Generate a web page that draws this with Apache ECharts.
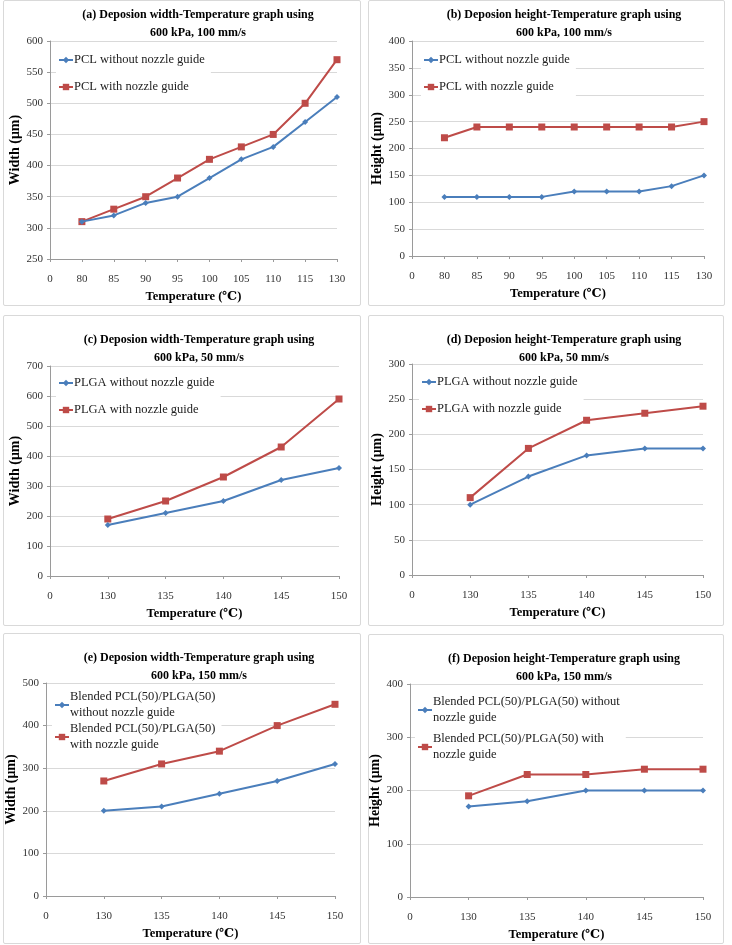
<!DOCTYPE html>
<html>
<head>
<meta charset="utf-8">
<script src="https://cdn.jsdelivr.net/npm/echarts@6/dist/echarts.min.js"></script>
<style>
  html, body { margin: 0; padding: 0; background: #fff; }
  .panel { position: absolute; border: 1px solid #d9d9d9; border-radius: 2px; background: #fff; box-sizing: border-box; }
</style>
</head>
<body>
<div id="pa" class="panel" style="left:3px;top:0px;width:358px;height:306px"></div>
<div id="pb" class="panel" style="left:368px;top:0px;width:357px;height:306px"></div>
<div id="pc" class="panel" style="left:3px;top:315px;width:358px;height:311px"></div>
<div id="pd" class="panel" style="left:368px;top:315px;width:356px;height:311px"></div>
<div id="pe" class="panel" style="left:3px;top:633px;width:358px;height:311px"></div>
<div id="pf" class="panel" style="left:368px;top:634px;width:356px;height:310px"></div>
<script>
// x categories (first "0" slot is empty, as in the original spreadsheet charts)
var tempsPCL = ['0', '80', '85', '90', '95', '100', '105', '110', '115', '130'];
var tempsPLGA = ['0', '130', '135', '140', '145', '150'];

// (a) width, PCL, 600 kPa 100 mm/s
var widthPclWithout = [null, 310, 320, 340, 350, 380, 410, 430, 470, 510];
var widthPclWith = [null, 310, 330, 350, 380, 410, 430, 450, 500, 570];
// (b) height, PCL
var heightPclWithout = [null, 110, 110, 110, 110, 120, 120, 120, 130, 150];
var heightPclWith = [null, 220, 240, 240, 240, 240, 240, 240, 240, 250];
// (c) width, PLGA, 50 mm/s
var widthPlgaWithout = [null, 170, 210, 250, 320, 360];
var widthPlgaWith = [null, 190, 250, 330, 430, 590];
// (d) height, PLGA
var heightPlgaWithout = [null, 100, 140, 170, 180, 180];
var heightPlgaWith = [null, 110, 180, 220, 230, 240];
// (e) width, blended, 150 mm/s
var widthBlendWithout = [null, 200, 210, 240, 270, 310];
var widthBlendWith = [null, 270, 310, 340, 400, 450];
// (f) height, blended
var heightBlendWithout = [null, 170, 180, 200, 200, 200];
var heightBlendWith = [null, 190, 230, 230, 240, 240];

var FONT = '"Liberation Serif", "DejaVu Serif", serif';
var BLUE = '#4A7EBB';
var RED = '#BE4B48';

function makeChart(id, cfg) {
  var chart = echarts.init(document.getElementById(id));
  var grid = Object.assign({ outerBoundsMode: 'none', containLabel: false }, cfg.grid);
  chart.setOption({
    animation: false,
    textStyle: { fontFamily: FONT },
    title: {
      text: cfg.title,
      left: cfg.titleLeft,
      top: cfg.titleTop,
      textAlign: 'center',
      textStyle: { fontFamily: FONT, fontSize: 12, fontWeight: 'bold', color: '#000', lineHeight: 18 }
    },
    legend: {
      left: cfg.legendLeft,
      top: cfg.legendTop,
      orient: 'vertical',
      backgroundColor: '#fff',
      z: 1,
      padding: [2, 6, 2, 2],
      itemGap: cfg.legendGap,
      itemWidth: 14,
      itemHeight: 8,
      textStyle: { fontFamily: FONT, fontSize: 12.5, color: '#222', padding: [0, 0, 0, -4], lineHeight: 16 },
      data: [cfg.names[0], cfg.names[1]]
    },
    grid: grid,
    xAxis: {
      type: 'category',
      data: cfg.cats,
      boundaryGap: false,
      name: 'Temperature (℃)',
      nameLocation: 'middle',
      nameGap: 31,
      nameMoveOverlap: false,
      nameTextStyle: { fontFamily: FONT, fontSize: 12.5, fontWeight: 'bold', color: '#000' },
      axisLine: { lineStyle: { color: '#9a9a9a' } },
      axisTick: { show: true, alignWithLabel: true, length: 3, lineStyle: { color: '#9a9a9a' } },
      axisLabel: { fontFamily: FONT, fontSize: 11, color: '#333', margin: 15 },
      splitLine: { show: false }
    },
    yAxis: {
      type: 'value',
      min: cfg.yMin,
      max: cfg.yMax,
      interval: cfg.yStep,
      name: cfg.yName,
      nameLocation: 'middle',
      nameGap: 28,
      nameMoveOverlap: false,
      nameTextStyle: { fontFamily: FONT, fontSize: 14, fontWeight: 'bold', color: '#000' },
      axisLine: { show: true, lineStyle: { color: '#9a9a9a' } },
      axisTick: { show: true, length: 3, lineStyle: { color: '#9a9a9a' } },
      axisLabel: { fontFamily: FONT, fontSize: 11, color: '#333', margin: 7 },
      splitLine: { show: true, lineStyle: { color: '#d9d9d9', width: 1 } }
    },
    series: [
      {
        name: cfg.names[0],
        type: 'line',
        data: cfg.values[0],
        symbol: 'diamond',
        symbolSize: 6,
        lineStyle: { color: BLUE, width: 2 },
        itemStyle: { color: BLUE },
        z: 3
      },
      {
        name: cfg.names[1],
        type: 'line',
        data: cfg.values[1],
        symbol: 'rect',
        symbolSize: 7,
        lineStyle: { color: RED, width: 2 },
        itemStyle: { color: RED },
        z: 2
      }
    ]
  });
}

makeChart('pa', {
  title: '(a) Deposion width-Temperature graph using\n600 kPa, 100 mm/s',
  titleLeft: 189, titleTop: 0,
  legendLeft: 52, legendTop: 49, legendGap: 11,
  grid: { left: 46, right: 23, top: 40, bottom: 46 },
  cats: tempsPCL, yMin: 250, yMax: 600, yStep: 50, yName: 'Width (μm)',
  names: ['PCL without nozzle guide', 'PCL with nozzle guide'],
  values: [widthPclWithout, widthPclWith]
});
makeChart('pb', {
  title: '(b) Deposion height-Temperature graph using\n600 kPa, 100 mm/s',
  titleLeft: 190, titleTop: 0,
  legendLeft: 52, legendTop: 49, legendGap: 11,
  grid: { left: 43, right: 20, top: 40, bottom: 49 },
  cats: tempsPCL, yMin: 0, yMax: 400, yStep: 50, yName: 'Height (μm)',
  names: ['PCL without nozzle guide', 'PCL with nozzle guide'],
  values: [heightPclWithout, heightPclWith]
});
makeChart('pc', {
  title: '(c) Deposion width-Temperature graph using\n600 kPa, 50 mm/s',
  titleLeft: 190, titleTop: 10,
  legendLeft: 52, legendTop: 57, legendGap: 11,
  grid: { left: 46, right: 21, top: 50, bottom: 49 },
  cats: tempsPLGA, yMin: 0, yMax: 700, yStep: 100, yName: 'Width (μm)',
  names: ['PLGA without nozzle guide', 'PLGA with nozzle guide'],
  values: [widthPlgaWithout, widthPlgaWith]
});
makeChart('pd', {
  title: '(d) Deposion height-Temperature graph using\n600 kPa, 50 mm/s',
  titleLeft: 190, titleTop: 10,
  legendLeft: 50, legendTop: 56, legendGap: 11,
  grid: { left: 43, right: 20, top: 48, bottom: 50 },
  cats: tempsPLGA, yMin: 0, yMax: 300, yStep: 50, yName: 'Height (μm)',
  names: ['PLGA without nozzle guide', 'PLGA with nozzle guide'],
  values: [heightPlgaWithout, heightPlgaWith]
});
makeChart('pe', {
  title: '(e) Deposion width-Temperature graph using\n600 kPa, 150 mm/s',
  titleLeft: 190, titleTop: 10,
  legendLeft: 48, legendTop: 53, legendGap: 0,
  grid: { left: 42, right: 25, top: 49, bottom: 47 },
  cats: tempsPLGA, yMin: 0, yMax: 500, yStep: 100, yName: 'Width (μm)',
  names: ['Blended PCL(50)/PLGA(50)\nwithout nozzle guide', 'Blended PCL(50)/PLGA(50)\nwith nozzle guide'],
  values: [widthBlendWithout, widthBlendWith]
});
makeChart('pf', {
  title: '(f) Deposion height-Temperature graph using\n600 kPa, 150 mm/s',
  titleLeft: 190, titleTop: 10,
  legendLeft: 46, legendTop: 57, legendGap: 5,
  grid: { left: 41, right: 20, top: 49, bottom: 46 },
  cats: tempsPLGA, yMin: 0, yMax: 400, yStep: 100, yName: 'Height (μm)',
  names: ['Blended PCL(50)/PLGA(50) without\nnozzle guide', 'Blended PCL(50)/PLGA(50) with\nnozzle guide'],
  values: [heightBlendWithout, heightBlendWith]
});
</script>
</body>
</html>
